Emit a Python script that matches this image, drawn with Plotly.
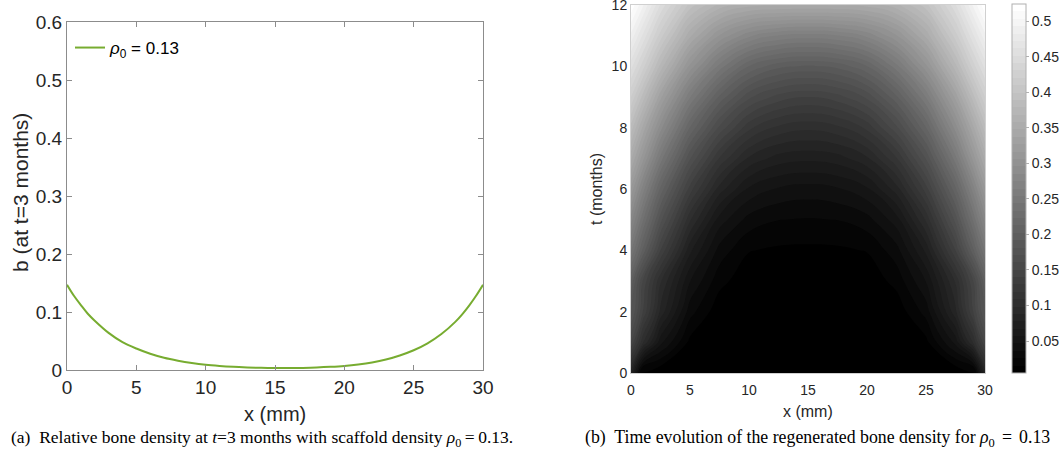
import plotly.graph_objects as go

# ---------------- Panel (a): b at t = 3 months ----------------
x_mm = [0, 0.5, 1, 1.5, 2, 3, 4, 5, 6, 7, 8, 9, 10, 11, 12, 13, 14, 15, 16, 17, 18, 19, 20,
        21, 22, 23, 24, 25, 26, 27, 28, 28.5, 29, 29.5, 30]
b_t3 = [0.147, 0.128, 0.112, 0.097, 0.085, 0.064, 0.048, 0.037, 0.028, 0.021, 0.016, 0.012, 0.009,
        0.007, 0.0055, 0.0044, 0.0037, 0.0033, 0.0033, 0.0036, 0.0043, 0.0054, 0.007,
        0.0095, 0.013, 0.018, 0.025, 0.034, 0.046, 0.062, 0.083, 0.096, 0.111, 0.128, 0.147]
legend_label = "<i>ρ</i><sub>0</sub> = 0.13"

# ---------------- Panel (b): b(x, t) ----------------
x_grid = [0, 1, 2.5, 5, 7.5, 10, 12.5, 15, 17.5, 20, 22.5, 25, 27.5, 29, 30]
t_months = [0, 1, 2, 3, 4, 5, 6, 7, 8, 9, 10, 11, 12]
b_t0 = [0.080, 0.006, 0.005, 0.005, 0.005, 0.005, 0.005, 0.005, 0.005, 0.005, 0.005, 0.005, 0.005, 0.006, 0.080]
b_t1 = [0.150, 0.100, 0.050, 0.012, 0.005, 0.005, 0.005, 0.005, 0.005, 0.005, 0.005, 0.012, 0.050, 0.100, 0.150]
b_t2 = [0.185, 0.140, 0.085, 0.030, 0.008, 0.005, 0.005, 0.005, 0.005, 0.005, 0.008, 0.030, 0.085, 0.140, 0.185]
b_t3g = [0.200, 0.150, 0.100, 0.047, 0.019, 0.008, 0.006, 0.005, 0.006, 0.008, 0.019, 0.047, 0.100, 0.150, 0.200]
b_t4 = [0.245, 0.200, 0.140, 0.070, 0.032, 0.016, 0.0135, 0.013, 0.0135, 0.016, 0.032, 0.070, 0.140, 0.200, 0.245]
b_t5 = [0.280, 0.235, 0.175, 0.100, 0.052, 0.032, 0.026, 0.025, 0.026, 0.032, 0.052, 0.100, 0.175, 0.235, 0.280]
b_t6 = [0.315, 0.270, 0.210, 0.135, 0.083, 0.055, 0.045, 0.042, 0.045, 0.055, 0.083, 0.135, 0.210, 0.270, 0.315]
b_t7 = [0.350, 0.310, 0.250, 0.172, 0.118, 0.086, 0.073, 0.070, 0.073, 0.086, 0.118, 0.172, 0.250, 0.310, 0.350]
b_t8 = [0.385, 0.345, 0.290, 0.212, 0.158, 0.122, 0.106, 0.101, 0.106, 0.122, 0.158, 0.212, 0.290, 0.345, 0.385]
b_t9 = [0.420, 0.385, 0.330, 0.255, 0.200, 0.163, 0.146, 0.140, 0.146, 0.163, 0.200, 0.255, 0.330, 0.385, 0.420]
b_t10 = [0.455, 0.425, 0.375, 0.303, 0.250, 0.212, 0.195, 0.190, 0.195, 0.212, 0.250, 0.303, 0.375, 0.425, 0.455]
b_t11 = [0.490, 0.460, 0.415, 0.350, 0.305, 0.277, 0.264, 0.260, 0.264, 0.277, 0.305, 0.350, 0.415, 0.460, 0.490]
b_t12 = [0.522, 0.495, 0.450, 0.395, 0.365, 0.352, 0.349, 0.348, 0.349, 0.352, 0.365, 0.395, 0.450, 0.495, 0.522]
density = [b_t0, b_t1, b_t2, b_t3g, b_t4, b_t5, b_t6, b_t7, b_t8, b_t9, b_t10, b_t11, b_t12]

cbar_ticks = [0.05, 0.1, 0.15, 0.2, 0.25, 0.3, 0.35, 0.4, 0.45, 0.5]
cbar_text = ["0.05", "0.1", "0.15", "0.2", "0.25", "0.3", "0.35", "0.4", "0.45", "0.5"]
ya_ticks = [0, 0.1, 0.2, 0.3, 0.4, 0.5, 0.6]
ya_text = ["0", "0.1", "0.2", "0.3", "0.4", "0.5", "0.6"]
x_ticks = [0, 5, 10, 15, 20, 25, 30]
t_ticks = [0, 2, 4, 6, 8, 10, 12]

W, H = 1063, 454
SANS = "Liberation Sans, Arial, sans-serif"
SERIF = "Liberation Serif, Times New Roman, serif"
TXT = "#262626"

def px(xp):
    return xp / W

def py(yp):
    return (H - yp) / H

fig = go.Figure()
fig.add_trace(go.Scatter(
    x=x_mm, y=b_t3, mode="lines", name=legend_label, showlegend=True,
    line=dict(color="#77AC30", width=2, shape="spline"),
    xaxis="x", yaxis="y"))

zmin, zmax = 0.005, 0.524
step = (zmax - zmin) / 50
fig.add_trace(go.Contour(
    x=x_grid, y=t_months, z=density, xaxis="x2", yaxis="y2",
    colorscale=[[0, "#000000"], [1, "#ffffff"]], zmin=zmin, zmax=zmax,
    autocontour=False,
    contours=dict(start=zmin + step, end=zmax - step / 2, size=step,
                  coloring="fill", showlines=False),
    line=dict(width=0, smoothing=1.3),
    showlegend=False,
    colorbar=dict(x=px(1012), xanchor="left", y=py(373), yanchor="bottom",
                  len=(373 - 4) / H, lenmode="fraction", thickness=14,
                  outlinewidth=1, outlinecolor="#b0b0b0", xpad=0, ypad=0,
                  tickvals=cbar_ticks, ticktext=cbar_text, ticks="outside",
                  ticklen=3, tickcolor="#b0b0b0",
                  tickfont=dict(family=SANS, size=14, color=TXT))))

axis_common = dict(showgrid=False, zeroline=False, showline=True)
fig.update_layout(
    width=W, height=H, margin=dict(l=0, r=0, t=0, b=0, autoexpand=False),
    paper_bgcolor="white", plot_bgcolor="white", showlegend=True,
    xaxis=dict(domain=[px(67), px(483)], range=[0, 30], tickvals=x_ticks,
               ticks="inside", ticklen=5, mirror="ticks", linecolor="#8c8c8c",
               tickcolor="#8c8c8c", linewidth=1, ticklabelstandoff=0,
               tickfont=dict(family=SANS, size=19, color=TXT), **axis_common),
    yaxis=dict(domain=[py(370), py(22)], range=[0, 0.6], tickvals=ya_ticks, ticktext=ya_text,
               ticks="inside", ticklen=5, mirror="ticks", linecolor="#8c8c8c",
               tickcolor="#8c8c8c", linewidth=1,
               tickfont=dict(family=SANS, size=19, color=TXT), **axis_common),
    xaxis2=dict(domain=[px(631), px(985)], range=[0, 30], tickvals=x_ticks,
                anchor="y2", ticks="", mirror=True, linecolor="#d0d0d0", ticklabelstandoff=4,
                tickfont=dict(family=SANS, size=14, color=TXT), **axis_common),
    yaxis2=dict(domain=[py(373), py(5)], range=[0, 12], tickvals=t_ticks,
                anchor="x2", ticks="", mirror=True, linecolor="#d0d0d0",
                ticklabeloverflow="allow",
                tickfont=dict(family=SANS, size=14, color=TXT), **axis_common),
    legend=dict(x=px(70), y=py(30), xanchor="left", yanchor="top",
                bgcolor="rgba(255,255,255,0)", borderwidth=0,
                font=dict(family=SANS, size=17, color="#000"), itemwidth=30),
    annotations=[
        dict(text="x (mm)", x=px(275), y=py(414), xref="paper", yref="paper",
             xanchor="center", yanchor="middle",
             showarrow=False, font=dict(family=SANS, size=20, color=TXT)),
        dict(text="b (at t=3 months)", x=px(20), y=py(193), xref="paper", yref="paper",
             xanchor="center", yanchor="middle",
             textangle=-90, showarrow=False, font=dict(family=SANS, size=21, color=TXT)),
        dict(text="x (mm)", x=px(808), y=py(411), xref="paper", yref="paper",
             xanchor="center", yanchor="middle",
             showarrow=False, font=dict(family=SANS, size=16, color=TXT)),
        dict(text="t (months)", x=px(596), y=py(189), xref="paper", yref="paper",
             xanchor="center", yanchor="middle",
             textangle=-90, showarrow=False, font=dict(family=SANS, size=16, color=TXT)),
        dict(text="(a)  Relative bone density at <i>t</i>=3 months with scaffold density <i>ρ</i><sub>0</sub>\u2009=\u20090.13.",
             x=px(9), y=py(438), xref="paper", yref="paper", xanchor="left", yanchor="middle",
             showarrow=False, font=dict(family=SERIF, size=17.5, color="#000")),
        dict(text="(b)  Time evolution of the regenerated bone density for <i>ρ</i><sub>0</sub>\u2009\u2009=\u2009\u20090.13",
             x=px(583), y=py(438), xref="paper", yref="paper", xanchor="left", yanchor="middle",
             showarrow=False, font=dict(family=SERIF, size=17.8, color="#000")),
    ],
)

fig.write_html("out.html")
